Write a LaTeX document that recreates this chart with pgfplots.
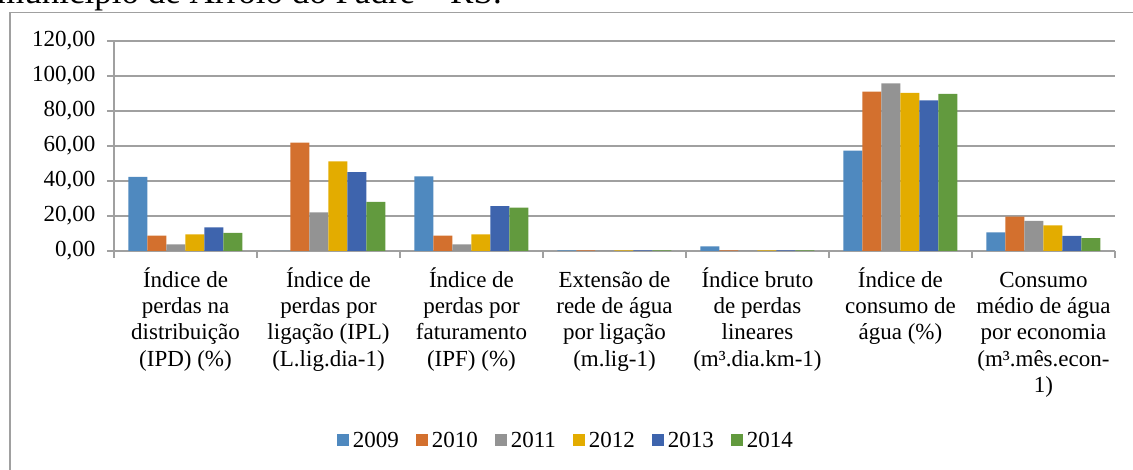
\documentclass[border=0pt]{standalone}
\usepackage{pgfplots}
\pgfplotsset{compat=1.18}
\usepackage{fontspec}
\setmainfont{Liberation Serif}
\definecolor{c09}{HTML}{4F89BF}
\definecolor{c10}{HTML}{D3702E}
\definecolor{c11}{HTML}{939393}
\definecolor{c12}{HTML}{E3AC00}
\definecolor{c13}{HTML}{3E64AD}
\definecolor{c14}{HTML}{629A3E}
\definecolor{gridc}{HTML}{A0A0A0}
\newcommand{\Z}{\vphantom{Í}}
\begin{document}
\begin{tikzpicture}[x=1pt,y=1pt]
\useasboundingbox (0,0) rectangle (1133,470);
\draw[gridc, line width=1.3pt] (10,-20) -- (10,457.5) -- (1150,457.5);
\node[anchor=base west, font=\fontsize{35}{40}\selectfont, inner sep=0pt] at (-3,466.5) {município de Arroio do Padre – RS.};
\begin{axis}[
  at={(114pt,219pt)}, anchor=south west,
  scale only axis, width=1001pt, height=210pt,
  xmin=-0.5, xmax=6.5, ymin=0, ymax=120,
  ybar=0pt, bar width=19pt,
  ytick={0,20,...,120},
  yticklabels={{0,00},{20,00},{40,00},{60,00},{80,00},{100,00},{120,00}},
  ymajorgrids, grid style={gridc, line width=1.2pt},
  axis x line*=bottom, axis y line*=left,
  axis line style={gridc, line width=1.2pt, -},
  tick align=outside,
  major tick length=7pt, minor tick length=7pt,
  xtick={0,...,6},
  minor xtick={-0.5,0.5,...,6.5},
  major x tick style={draw=none},
  minor x tick style={gridc, line width=1.2pt},
  major y tick style={gridc, line width=1.2pt},
  every tick label/.append style={font=\fontsize{23}{26.3}\selectfont},
  yticklabel style={anchor=east, xshift=-8pt},
  xticklabel style={align=center, anchor=north, yshift=-6pt},
  xticklabels={
    {\Z Índice de\\perdas na\\distribuição\\(IPD) (\%)},
    {\Z Índice de\\perdas por\\ligação (IPL)\\(L.lig.dia-1)},
    {\Z Índice de\\perdas por\\faturamento\\(IPF) (\%)},
    {\Z Extensão de\\rede de água\\por ligação\\(m.lig-1)},
    {\Z Índice bruto\\de perdas\\lineares\\(m³.dia.km-1)},
    {\Z Índice de\\consumo de\\água (\%)},
    {\Z Consumo\\médio de água\\por economia\\(m³.mês.econ-\\1)}},
  legend style={at={(0.4525,-0.902)}, anchor=center, draw=none, fill=none,
    legend columns=-1, font=\fontsize{23}{26}\selectfont,
    nodes={inner xsep=4pt},
    /tikz/every even column/.append style={column sep=13pt}},
  legend image code/.code={\fill[#1] (0pt,-6pt) rectangle (12pt,6pt);},
]
\addplot[fill=c09, draw=none] coordinates {(0,42.4) (1,0) (2,42.6) (3,0.4) (4,2.7) (5,57.4) (6,10.6)};
\addplot[fill=c10, draw=none] coordinates {(0,8.8) (1,61.9) (2,8.8) (3,0.4) (4,0.4) (5,91.0) (6,19.6)};
\addplot[fill=c11, draw=none] coordinates {(0,3.8) (1,22.1) (2,3.8) (3,0.4) (4,0.4) (5,95.8) (6,17.2)};
\addplot[fill=c12, draw=none] coordinates {(0,9.5) (1,51.2) (2,9.5) (3,0.4) (4,0.4) (5,90.4) (6,14.7)};
\addplot[fill=c13, draw=none] coordinates {(0,13.5) (1,45.0) (2,25.6) (3,0.4) (4,0.4) (5,86.0) (6,8.7)};
\addplot[fill=c14, draw=none] coordinates {(0,10.3) (1,28.0) (2,24.8) (3,0.4) (4,0.4) (5,89.8) (6,7.3)};
\legend{2009,2010,2011,2012,2013,2014}
\end{axis}
\end{tikzpicture}
\end{document}
